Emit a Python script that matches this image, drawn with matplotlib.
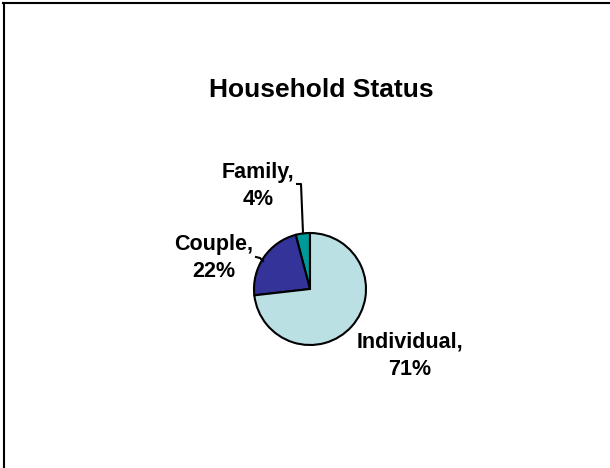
import matplotlib.pyplot as plt
from matplotlib.lines import Line2D

plt.rcParams['font.family'] = ['Liberation Sans', 'DejaVu Sans']

# data
categories = ['Family', 'Couple', 'Individual']
shares     = [4, 22, 71]
colors     = ['#009999', '#333399', '#BBE0E3']

W, H = 610, 468
fig = plt.figure(figsize=(W/100, H/100), dpi=100)
ax = fig.add_axes([0, 0, 1, 1])

# pie in pixel-like coords (y up)
cx, cy, r = 310, H - 289, 56
ax.pie(shares, colors=colors, startangle=90, counterclock=True,
       center=(cx, cy), radius=r,
       wedgeprops=dict(edgecolor='black', linewidth=1.5))
ax.set_xlim(0, W)
ax.set_ylim(0, H)
ax.set_aspect('equal')
ax.axis('off')

ax.text(321, H - 90, 'Household Status', ha='center', va='center',
        fontsize=19, fontweight='bold')

lab_pos = [(258, 186), (214, 258), (410, 356)]
for name, v, (x, y) in zip(categories, shares, lab_pos):
    ax.text(x, H - y, f'{name},\n{v}%', ha='center', va='center',
            fontsize=15.5, fontweight='bold', linespacing=1.4)

# leader lines
ax.plot([297, 301, 303], [H - 184, H - 184, H - 233], color='black', lw=1.5)
ax.plot([256, 260, 263], [H - 257, H - 258, H - 261], color='black', lw=1.5)

# frame (top and left edges only)
fig.add_artist(Line2D([3/W, 1], [1 - 3/H, 1 - 3/H], color='black', lw=1.5,
                      transform=fig.transFigure))
fig.add_artist(Line2D([4/W, 4/W], [0, 1 - 3/H], color='black', lw=1.5,
                      transform=fig.transFigure))

fig.savefig('out.png', dpi=100)
